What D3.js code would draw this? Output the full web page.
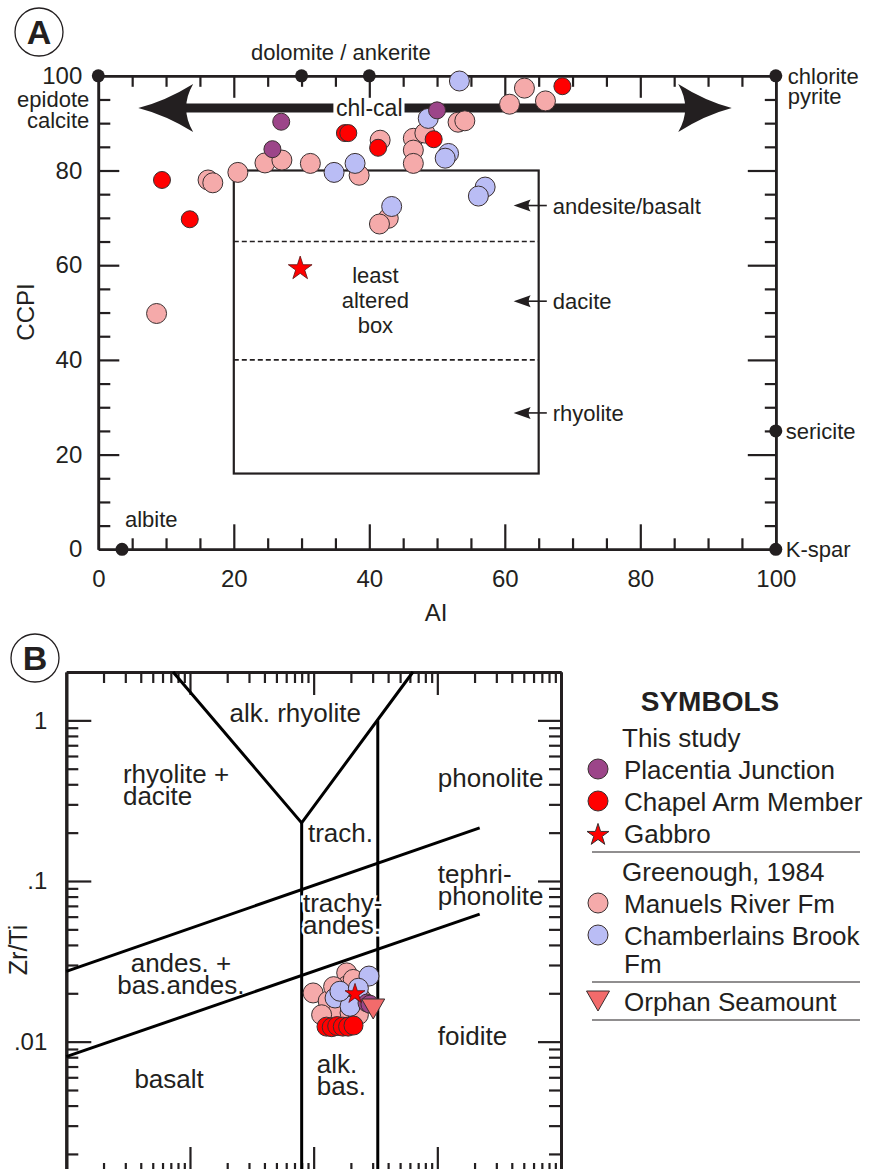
<!DOCTYPE html>
<html>
<head>
<meta charset="utf-8">
<script src="https://cdn.jsdelivr.net/npm/d3@7"></script>
<style>
	body { margin: 0; background: #fff; }
	svg text { font-family: "Liberation Sans", Arial, Helvetica, sans-serif; fill: #231f20; }
	.axis path, .axis line { stroke: #231f20; }
</style>
</head>
<body>
<div id="chart"></div>
<script>

// ---- Panel A : alteration box plot (AI vs CCPI) ----
var placentiaA = [[27.0, 90.3], [25.7, 84.5], [50.0, 92.7]];
var chapelArmA = [[9.4, 78.0], [13.5, 69.7], [36.4, 87.9], [36.9, 87.9], [41.3, 84.8], [49.5, 86.6], [68.5, 97.8]];
var gabbroA = [[29.8, 59.5]];
var manuelsA = [[8.6, 49.8], [16.2, 78.0], [16.9, 77.4], [20.6, 79.6], [24.6, 81.6], [27.1, 82.2], [31.3, 81.5],
	[38.5, 79.0], [41.6, 86.4], [42.8, 69.9], [41.5, 68.7], [46.5, 86.8], [46.5, 84.3], [46.5, 81.5],
	[48.2, 87.9], [53.1, 90.2], [54.1, 90.5], [60.7, 94.0], [62.9, 97.4], [66.0, 94.7]];
var chamberlainsA = [[53.3, 98.9], [48.7, 91.0], [34.8, 79.6], [37.9, 81.5], [43.3, 72.4], [51.7, 83.6],
	[51.2, 82.6], [57.1, 76.5], [56.1, 74.6]];

var endmembers = [
	{name: ["epidote", "calcite"], ai: 0, ccpi: 100},
	{name: [], ai: 30, ccpi: 100},
	{name: [], ai: 40, ccpi: 100},
	{name: ["chlorite", "pyrite"], ai: 100, ccpi: 100},
	{name: ["sericite"], ai: 100, ccpi: 25},
	{name: ["K-spar"], ai: 100, ccpi: 0},
	{name: ["albite"], ai: 3.5, ccpi: 0}
];
var boxAI = [20, 65];
var boxCCPI = [16, 80];
var boxDivisions = [40, 65];
var boxLabels = [{name: "andesite/basalt", ccpi: 72.6}, {name: "dacite", ccpi: 52.4}, {name: "rhyolite", ccpi: 28.8}];
var chlCal = {ccpi: 93.2, leftTip: 5.9, leftBack: 14.0, leftEnd: 34.7, rightStart: 45.2, rightBack: 85.6, rightTip: 93.5};
var aiTicks = [0, 20, 40, 60, 80, 100];
var ccpiTicks = [0, 20, 40, 60, 80, 100];

// ---- Panel B : Zr/Ti vs Nb/Y ----
var placentiaB = [[2.70, 0.0174], [2.85, 0.0171]];
var chapelArmB = [[1.27, 0.0124], [1.40, 0.0123], [1.55, 0.0125], [1.72, 0.0124], [1.90, 0.0124], [2.10, 0.0126]];
var gabbroB = [[2.16, 0.0201]];
var orphanB = [[3.03, 0.0162]];
var manuelsB = [[1.85, 0.0268], [0.99, 0.0201], [1.85, 0.0222], [2.09, 0.0244], [1.31, 0.0179], [1.58, 0.0154],
	[1.97, 0.0151], [1.16, 0.0147], [2.30, 0.0147], [1.45, 0.0220], [2.40, 0.0186]];
var chamberlainsB = [[2.80, 0.0256], [1.49, 0.0187], [1.97, 0.0166], [1.63, 0.0206], [2.30, 0.0215]];

var fieldLines = [
	[[0.073, 2], [0.80, 0.23], [6.35, 2]],
	[[0.80, 0.0015], [0.80, 0.23]],
	[[3.3, 0.0015], [3.3, 1.0]],
	[[0.01, 0.0274], [22, 0.214]],
	[[0.01, 0.00806], [22, 0.0622]]
];
var fieldLabels = [
	{lines: ["alk. rhyolite"], x: 0.71, y: 1.11, anchor: "middle"},
	{lines: ["rhyolite +", "dacite"], x: 0.0287, y: 0.466, anchor: "start"},
	{lines: ["trach."], x: 0.90, y: 0.20, anchor: "start"},
	{lines: ["trachy-", "andes."], x: 0.82, y: 0.0729, anchor: "start", halo: true},
	{lines: ["andes. +", "bas.andes."], x: 0.0845, y: 0.0307, anchor: "middle"},
	{lines: ["basalt"], x: 0.0678, y: 0.00587, anchor: "middle"},
	{lines: ["alk.", "bas."], x: 1.06, y: 0.00729, anchor: "start"},
	{lines: ["phonolite"], x: 10.1, y: 0.44, anchor: "start"},
	{lines: ["tephri-", "phonolite"], x: 10.1, y: 0.111, anchor: "start"},
	{lines: ["foidite"], x: 10.1, y: 0.0108, anchor: "start"}
];
var zrTiLabels = [1, 0.1, 0.01];
var zrTiFormat = {1: "1", 0.1: ".1", 0.01: ".01"};

var legendItems = [
	{type: "head", text: "This study"},
	{type: "circle", fill: "#9c4589", text: "Placentia Junction"},
	{type: "circle", fill: "#ff0000", text: "Chapel Arm Member"},
	{type: "star", fill: "#ff0000", text: "Gabbro"},
	{type: "rule"},
	{type: "head", text: "Greenough, 1984"},
	{type: "circle", fill: "#f5aaaa", text: "Manuels River Fm"},
	{type: "circle", fill: "#babdf5", text: "Chamberlains Brook", text2: "Fm"},
	{type: "rule"},
	{type: "triangle", fill: "#f26b6b", text: "Orphan Seamount"},
	{type: "rule"}
];

var colors = {placentia: "#9c4589", chapel: "#ff0000", manuels: "#f5aaaa", chamberlains: "#babdf5", orphan: "#f26b6b"};
var ink = "#231f20";

var svg = d3.select("#chart").append("svg")
	.attr("width", 869)
	.attr("height", 1169);

function panelLetter(cx, cy, letter) {
	svg.append("circle").attr("cx", cx).attr("cy", cy).attr("r", 24)
		.attr("fill", "none").attr("stroke", ink).attr("stroke-width", 1.3);
	svg.append("text").attr("x", cx).attr("y", cy + 12)
		.attr("text-anchor", "middle")
		.style("font-size", "34px").style("font-weight", "bold")
		.text(letter);
}

function addAxis(g, gen, transform, width) {
	var a = g.append("g").attr("class", "axis").attr("transform", transform).call(gen);
	a.selectAll("line").attr("stroke-width", 2.2);
	a.select(".domain").attr("stroke-width", width || 2.6);
	a.selectAll("text").remove();
	return a;
}

function starPath(size) {
	return d3.symbol().type(d3.symbolStar).size(size)();
}

function trianglePath() {
	return "M-11.5,-9L11.5,-9L0,11Z";
}

// =========================== PANEL A ===========================
(function() {
	var x = d3.scaleLinear().domain([0, 100]).range([98.3, 775.8]),
		y = d3.scaleLinear().domain([0, 100]).range([549.3, 75.8]),
		g = svg.append("g");

	var minor = d3.range(5, 100, 5).filter(function(d) { return d % 20 != 0; }),
		major = [20, 40, 60, 80];

	// frame + inward ticks on all four sides
	addAxis(g, d3.axisBottom(x).tickValues(minor).tickSize(-11).tickSizeOuter(0), "translate(0," + y(0) + ")");
	addAxis(g, d3.axisBottom(x).tickValues(major).tickSize(-25).tickSizeOuter(0), "translate(0," + y(0) + ")");
	addAxis(g, d3.axisTop(x).tickValues(minor).tickSize(-11).tickSizeOuter(0), "translate(0," + y(100) + ")");
	addAxis(g, d3.axisTop(x).tickValues(major).tickSize(-22).tickSizeOuter(0), "translate(0," + y(100) + ")");
	addAxis(g, d3.axisLeft(y).tickValues(minor).tickSize(-12).tickSizeOuter(0), "translate(" + x(0) + ",0)");
	addAxis(g, d3.axisLeft(y).tickValues(major).tickSize(-21).tickSizeOuter(0), "translate(" + x(0) + ",0)");
	addAxis(g, d3.axisRight(y).tickValues(minor).tickSize(-11).tickSizeOuter(0), "translate(" + x(100) + ",0)");
	addAxis(g, d3.axisRight(y).tickValues(major).tickSize(-28).tickSizeOuter(0), "translate(" + x(100) + ",0)");

	// tick labels
	var xl = g.append("g").attr("transform", "translate(0," + y(0) + ")")
		.call(d3.axisBottom(x).tickValues(aiTicks).tickSize(0).tickPadding(21));
	xl.select(".domain").remove();
	xl.selectAll("text").style("font-size", "24px").attr("fill", ink);
	var yl = g.append("g").attr("transform", "translate(" + x(0) + ",0)")
		.call(d3.axisLeft(y).tickValues(ccpiTicks).tickSize(0).tickPadding(16));
	yl.select(".domain").remove();
	yl.selectAll("text").style("font-size", "24px").attr("fill", ink);

	g.append("text").attr("x", 436).attr("y", 621).attr("text-anchor", "middle")
		.style("font-size", "24px").text("AI");
	g.append("text").attr("transform", "translate(34,312) rotate(-90)").attr("text-anchor", "middle")
		.style("font-size", "24px").text("CCPI");

	// least altered box
	g.append("rect")
		.attr("x", x(boxAI[0])).attr("y", y(boxCCPI[1]))
		.attr("width", x(boxAI[1]) - x(boxAI[0]))
		.attr("height", y(boxCCPI[0]) - y(boxCCPI[1]))
		.attr("fill", "none").attr("stroke", ink).attr("stroke-width", 2.2);
	g.selectAll(".divide").data(boxDivisions).enter().append("line")
		.attr("x1", x(boxAI[0])).attr("x2", x(boxAI[1]))
		.attr("y1", function(d) { return y(d); }).attr("y2", function(d) { return y(d); })
		.attr("stroke", ink).attr("stroke-width", 1.6).attr("stroke-dasharray", "5,3");

	g.append("text").attr("text-anchor", "middle").style("font-size", "22px")
		.selectAll("tspan").data(["least", "altered", "box"]).enter().append("tspan")
		.attr("x", x(40.9)).attr("y", function(d, i) { return 283 + i * 25; })
		.text(function(d) { return d; });

	// small arrows for the box subdivisions
	boxLabels.forEach(function(b) {
		var yy = y(b.ccpi), tip = x(61.3), tail = x(66.2);
		g.append("line").attr("x1", tip + 10).attr("x2", tail).attr("y1", yy).attr("y2", yy)
			.attr("stroke", ink).attr("stroke-width", 1.6);
		g.append("path").attr("d", "M" + tip + "," + yy + "L" + (tip + 17) + "," + (yy - 6) + "Q" + (tip + 13) + "," + yy + " " + (tip + 17) + "," + (yy + 6) + "Z")
			.attr("fill", ink);
		g.append("text").attr("x", tail + 6).attr("y", yy + 8).style("font-size", "22px").text(b.name);
	});

	// chl-cal double arrow
	var cy = y(chlCal.ccpi);
	function head(tip, back) {
		var dir = back > tip ? 1 : -1;
		return "M" + tip + "," + cy +
			"Q" + (tip + (back - tip) * 0.5) + "," + (cy - 7) + " " + back + "," + (cy - 24) +
			"Q" + (back - dir * 14) + "," + cy + " " + back + "," + (cy + 24) +
			"Q" + (tip + (back - tip) * 0.5) + "," + (cy + 7) + " " + tip + "," + cy + "Z";
	}
	g.append("rect").attr("x", x(chlCal.leftBack) - 12).attr("y", cy - 4.5)
		.attr("width", x(chlCal.leftEnd) - x(chlCal.leftBack) + 12).attr("height", 9).attr("fill", ink);
	g.append("rect").attr("x", x(chlCal.rightStart)).attr("y", cy - 4.5)
		.attr("width", x(chlCal.rightBack) - x(chlCal.rightStart) + 12).attr("height", 9).attr("fill", ink);
	g.append("path").attr("d", head(x(chlCal.leftTip), x(chlCal.leftBack))).attr("fill", ink);
	g.append("path").attr("d", head(x(chlCal.rightTip), x(chlCal.rightBack))).attr("fill", ink);
	g.append("text").attr("x", x(40.0)).attr("y", cy + 8).attr("text-anchor", "middle")
		.style("font-size", "23px").text("chl-cal");

	// data points
	function circles(data, fill, r) {
		g.append("g").selectAll("circle").data(data).enter().append("circle")
			.attr("cx", function(d) { return x(d[0]); })
			.attr("cy", function(d) { return y(d[1]); })
			.attr("r", r)
			.attr("fill", fill).attr("stroke", "#3a2f30").attr("stroke-width", 1);
	}
	circles(manuelsA, colors.manuels, 10);
	circles(chamberlainsA, colors.chamberlains, 10);
	circles(placentiaA, colors.placentia, 8.5);
	circles(chapelArmA, colors.chapel, 8.5);
	g.selectAll(".gabbro").data(gabbroA).enter().append("path")
		.attr("d", starPath(175))
		.attr("transform", function(d) { return "translate(" + x(d[0]) + "," + (y(d[1]) + 1) + ")"; })
		.attr("fill", colors.chapel).attr("stroke", "#5a1010").attr("stroke-width", 0.8);

	// end-member minerals
	g.selectAll(".em").data(endmembers).enter().append("circle")
		.attr("cx", function(d) { return x(d.ai); })
		.attr("cy", function(d) { return y(d.ccpi); })
		.attr("r", 6.5).attr("fill", ink);

	var em = function(i) { return endmembers[i]; };
	g.append("text").attr("text-anchor", "end").style("font-size", "22px")
		.selectAll("tspan").data(em(0).name).enter().append("tspan")
		.attr("x", x(0) - 9).attr("y", function(d, i) { return y(100) + 31 + i * 21; })
		.text(function(d) { return d; });
	g.append("text").attr("x", x(35.8)).attr("y", y(100) - 16).attr("text-anchor", "middle")
		.style("font-size", "22px").text("dolomite / ankerite");
	g.append("text").style("font-size", "22px")
		.selectAll("tspan").data(em(3).name).enter().append("tspan")
		.attr("x", x(100) + 12).attr("y", function(d, i) { return y(100) + 8 + i * 20; })
		.text(function(d) { return d; });
	g.append("text").attr("x", x(100) + 10).attr("y", y(25) + 8).style("font-size", "22px").text(em(4).name[0]);
	g.append("text").attr("x", x(100) + 10).attr("y", y(0) + 8).style("font-size", "22px").text(em(5).name[0]);
	g.append("text").attr("x", x(em(6).ai) + 3).attr("y", y(0) - 22).style("font-size", "22px").text(em(6).name[0]);

	panelLetter(39, 32, "A");
})();

// =========================== PANEL B ===========================
(function() {
	var x = d3.scaleLog().domain([0.01, 100]).range([66.3, 561]),
		y = d3.scaleLog().domain([0.0015, 2]).range([1174, 672]),
		g = svg.append("g");

	function logValues(domain, majorOnly) {
		var vals = [];
		for (var e = -4; e <= 3; e++) {
			for (var m = 1; m <= 9; m++) {
				var v = m * Math.pow(10, e);
				if (v > domain[0] * 1.0001 && v < domain[1] * 0.9999 && (m == 1) == !!majorOnly) vals.push(v);
			}
		}
		return vals;
	}
	var xMinor = logValues(x.domain(), false), xMajor = logValues(x.domain(), true),
		yMinor = logValues(y.domain(), false), yMajor = logValues(y.domain(), true);

	var bottom = y.range()[0], top = y.range()[1], left = x.range()[0], right = x.range()[1];

	addAxis(g, d3.axisBottom(x).tickValues(xMinor).tickSize(-11).tickSizeOuter(0), "translate(0," + bottom + ")", 3);
	addAxis(g, d3.axisBottom(x).tickValues(xMajor).tickSize(-27).tickSizeOuter(0), "translate(0," + bottom + ")", 3);
	addAxis(g, d3.axisTop(x).tickValues(xMinor).tickSize(-11).tickSizeOuter(0), "translate(0," + top + ")", 3);
	addAxis(g, d3.axisTop(x).tickValues(xMajor).tickSize(-23).tickSizeOuter(0), "translate(0," + top + ")", 3);
	addAxis(g, d3.axisLeft(y).tickValues(yMinor).tickSize(-12).tickSizeOuter(0), "translate(" + left + ",0)", 3);
	addAxis(g, d3.axisLeft(y).tickValues(yMajor).tickSize(-25).tickSizeOuter(0), "translate(" + left + ",0)", 3);
	addAxis(g, d3.axisRight(y).tickValues(yMinor).tickSize(-12).tickSizeOuter(0), "translate(" + right + ",0)", 3);
	addAxis(g, d3.axisRight(y).tickValues(yMajor).tickSize(-23).tickSizeOuter(0), "translate(" + right + ",0)", 3);

	var yl = g.append("g").attr("transform", "translate(" + left + ",0)")
		.call(d3.axisLeft(y).tickValues(zrTiLabels).tickSize(0).tickPadding(19)
			.tickFormat(function(d) { return zrTiFormat[d]; }));
	yl.select(".domain").remove();
	yl.selectAll("text").style("font-size", "24px").attr("fill", ink);

	g.append("text").attr("transform", "translate(27,950) rotate(-90)").attr("text-anchor", "middle")
		.style("font-size", "25px").text("Zr/Ti");

	// field boundaries
	var line = d3.line().x(function(d) { return x(d[0]); }).y(function(d) { return y(d[1]); });
	g.selectAll(".field").data(fieldLines).enter().append("path")
		.attr("d", line).attr("fill", "none").attr("stroke", "#000").attr("stroke-width", 3);

	// field names
	fieldLabels.forEach(function(f) {
		var t = g.append("text").attr("text-anchor", f.anchor).style("font-size", "26px");
		if (f.halo) t.attr("stroke", "#fff").attr("stroke-width", 5).attr("paint-order", "stroke");
		t.selectAll("tspan").data(f.lines).enter().append("tspan")
			.attr("x", x(f.x))
			.attr("y", function(d, i) { return y(f.y) + 9 + i * 22; })
			.text(function(d) { return d; });
	});

	function circles(data, fill, r) {
		g.append("g").selectAll("circle").data(data).enter().append("circle")
			.attr("cx", function(d) { return x(d[0]); })
			.attr("cy", function(d) { return y(d[1]); })
			.attr("r", r)
			.attr("fill", fill).attr("stroke", "#3a2f30").attr("stroke-width", 1);
	}
	circles(manuelsB, colors.manuels, 10);
	circles(chamberlainsB, colors.chamberlains, 10);
	circles(placentiaB, colors.placentia, 9);
	circles(chapelArmB, colors.chapel, 9.5);
	g.selectAll(".gabbro").data(gabbroB).enter().append("path")
		.attr("d", starPath(124))
		.attr("transform", function(d) { return "translate(" + x(d[0]) + "," + (y(d[1]) + 1) + ")"; })
		.attr("fill", colors.chapel).attr("stroke", "#5a1010").attr("stroke-width", 0.8);
	g.selectAll(".orphan").data(orphanB).enter().append("path")
		.attr("d", trianglePath())
		.attr("transform", function(d) { return "translate(" + x(d[0]) + "," + y(d[1]) + ")"; })
		.attr("fill", colors.orphan).attr("stroke", "#3a2f30").attr("stroke-width", 1);

	panelLetter(35, 658, "B");
})();

// =========================== LEGEND ===========================
(function() {
	var g = svg.append("g"),
		rowY = 738;

	g.append("text").attr("x", 710).attr("y", 711).attr("text-anchor", "middle")
		.style("font-size", "28px").style("font-weight", "bold").text("SYMBOLS");

	legendItems.forEach(function(d) {
		if (d.type == "rule") {
			g.append("line").attr("x1", 592).attr("x2", 860)
				.attr("y1", rowY - 14).attr("y2", rowY - 14)
				.attr("stroke", ink).attr("stroke-width", 1.2);
			rowY += 6;
			return;
		}
		if (d.type == "head") {
			g.append("text").attr("x", 622).attr("y", rowY + 9).style("font-size", "26px").text(d.text);
			rowY += 32;
			return;
		}
		var m;
		if (d.type == "circle") m = g.append("circle").attr("r", 10).attr("cx", 598).attr("cy", rowY - 1);
		else if (d.type == "star") m = g.append("path").attr("d", starPath(150)).attr("transform", "translate(598," + (rowY + 1) + ")");
		else m = g.append("path").attr("d", trianglePath()).attr("transform", "translate(598," + (rowY - 2) + ")");
		m.attr("fill", d.fill).attr("stroke", "#3a2f30").attr("stroke-width", 1);
		g.append("text").attr("x", 624).attr("y", rowY + 9).style("font-size", "26px").text(d.text);
		if (d.text2) {
			rowY += 28;
			g.append("text").attr("x", 624).attr("y", rowY + 9).style("font-size", "26px").text(d.text2);
		}
		rowY += 32;
	});
})();

</script>
</body>
</html>
